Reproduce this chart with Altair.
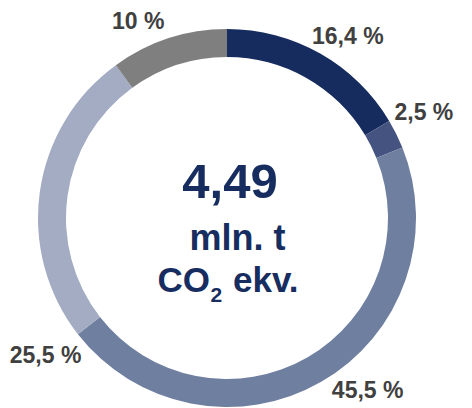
import altair as alt
import pandas as pd

# ---- data ----
categories = ["Segment 1", "Segment 2", "Segment 3", "Segment 4", "Segment 5"]
shares = [16.4, 2.5, 45.5, 25.5, 10.0]
labels = ["16,4 %", "2,5 %", "45,5 %", "25,5 %", "10 %"]
total_value = ["4,49"]
unit_line1 = ["mln. t"]
unit_line2 = ["CO", "2", "ekv."]

# ---- style ----
colors = ["#172c5e", "#44537f", "#6f7fa0", "#a3acc2", "#7f7f7f"]
label_nudge_deg = [4.1, -1.6, -9.2, -45.3, -6.4]
label_radius = [218, 223, 223, 228, 215]
FONT = "Liberation Sans"
NAVY = "#172d5f"
CX, CY = 219, 210

df = pd.DataFrame({
    "idx": list(range(len(shares))),
    "cat": categories,
    "share": shares,
    "label": labels,
    "nudge": label_nudge_deg,
    "r": label_radius,
})

ring = alt.Chart(df).mark_arc(outerRadius=189, innerRadius=161).encode(
    theta=alt.Theta("share:Q", stack=True),
    order=alt.Order("idx:Q"),
    color=alt.Color("cat:N", scale=alt.Scale(domain=categories, range=colors), legend=None),
    x=alt.value(CX),
    y=alt.value(CY),
)

text_labels = alt.Chart(df).transform_window(
    cum="sum(share)", sort=[alt.SortField("idx")], frame=[None, 0]
).transform_joinaggregate(
    total="sum(share)"
).transform_calculate(
    th="2*PI*(datum.cum - datum.share/2)/datum.total + datum.nudge*PI/180"
).mark_text(
    font=FONT, fontSize=23, fontWeight="bold", color="#404040",
    align="center", baseline="middle"
).encode(
    theta=alt.Theta("th:Q", scale=None),
    radius=alt.Radius("r:Q", scale=None),
    text="label:N",
    x=alt.value(CX),
    y=alt.value(CY),
)


def center_text(txt, size, x, y, align="center"):
    return alt.Chart(pd.DataFrame({"t": [txt]})).mark_text(
        font=FONT, fontSize=size, fontWeight="bold", color=NAVY,
        align=align, baseline="alphabetic"
    ).encode(text="t:N", x=alt.value(x), y=alt.value(y))


big = center_text(total_value[0], 49, 222, 190)
unit1 = center_text(unit_line1[0], 36, 229.5, 242)
co = center_text(unit_line2[0], 35, 149.5, 284, align="left")
sub2 = center_text(unit_line2[1], 21, 202.5, 293.5, align="left")
ekv = center_text(unit_line2[2], 35, 225, 284, align="left")

chart = alt.layer(ring, text_labels, big, unit1, co, sub2, ekv).properties(
    width=456, height=400, autosize=alt.AutoSizeParams(type="none"), padding=0
).configure_view(stroke=None)

chart.save("out.html", embed_options={"renderer": "svg", "actions": False})
